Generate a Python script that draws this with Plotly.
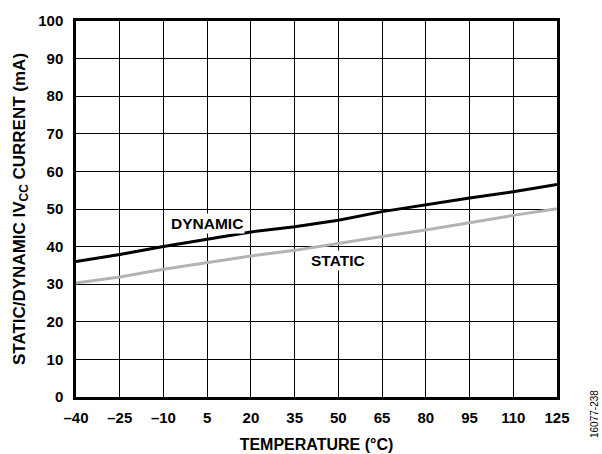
import plotly.graph_objects as go

temperature = [-40, -25, -10, 5, 20, 35, 50, 65, 80, 95, 110, 125]
dynamic_ma = [36.0, 37.9, 40.0, 42.0, 43.9, 45.3, 47.0, 49.3, 51.0, 52.9, 54.6, 56.5]
static_ma = [30.3, 31.9, 34.0, 35.8, 37.5, 39.0, 40.9, 42.7, 44.4, 46.4, 48.3, 50.1]
x_ticks = [-40, -25, -10, 5, 20, 35, 50, 65, 80, 95, 110, 125]
x_tick_text = ["–40", "–25", "–10", "5", "20", "35", "50", "65", "80", "95", "110", "125"]
y_ticks = [0, 10, 20, 30, 40, 50, 60, 70, 80, 90, 100]

font = "Liberation Sans, Arial, sans-serif"
FS = 15

fig = go.Figure()
fig.add_trace(go.Scatter(x=temperature, y=static_ma, mode="lines",
                         line=dict(color="#b3b3b3", width=3), showlegend=False))
fig.add_trace(go.Scatter(x=temperature, y=dynamic_ma, mode="lines",
                         line=dict(color="#000000", width=3), showlegend=False))

fig.add_annotation(x=5, y=46.2, text="<b>DYNAMIC</b>", showarrow=False,
                   bgcolor="white", borderpad=1,
                   font=dict(family=font, size=15.5, color="black"))
fig.add_annotation(x=50, y=36.4, text="<b>STATIC</b>", showarrow=False,
                   bgcolor="white", borderpad=1,
                   font=dict(family=font, size=15.5, color="black"))
fig.add_annotation(xref="paper", yref="paper", x=1.0, y=0.0, xshift=37, yshift=-17,
                   text="16077-238", textangle=-90, showarrow=False,
                   xanchor="center", yanchor="middle",
                   font=dict(family=font, size=10, color="black"))

fig.update_xaxes(range=[-40, 125], tickvals=x_ticks, ticktext=x_tick_text,
                 showgrid=True, gridcolor="black", gridwidth=1.2,
                 showline=True, linecolor="black", linewidth=2.5, mirror=True,
                 ticks="", zeroline=False, automargin=False, ticklabelstandoff=5,
                 tickfont=dict(family=font, size=FS, color="black", weight="bold"),
                 title=dict(text="<b>TEMPERATURE (°C)</b>",
                            font=dict(family=font, size=16, color="black")))
fig.update_yaxes(range=[0, 100], tickvals=y_ticks,
                 showgrid=True, gridcolor="black", gridwidth=1.2,
                 showline=True, linecolor="black", linewidth=2.5, mirror=True,
                 ticks="", zeroline=False, automargin=True, ticklabelstandoff=7,
                 tickfont=dict(family=font, size=FS, color="black", weight="bold"),
                 title=dict(text="<b>STATIC/DYNAMIC IV<sub>CC</sub> CURRENT (mA)</b>", standoff=9,
                            font=dict(family=font, size=17, color="black")))

fig.update_layout(width=602, height=454, plot_bgcolor="white", paper_bgcolor="white",
                  margin=dict(l=76, r=45, t=12, b=57),
                  font=dict(family=font, color="black"))

fig.write_html("out.html", config={"displayModeBar": False},
               post_script="document.body.style.margin='0';")
